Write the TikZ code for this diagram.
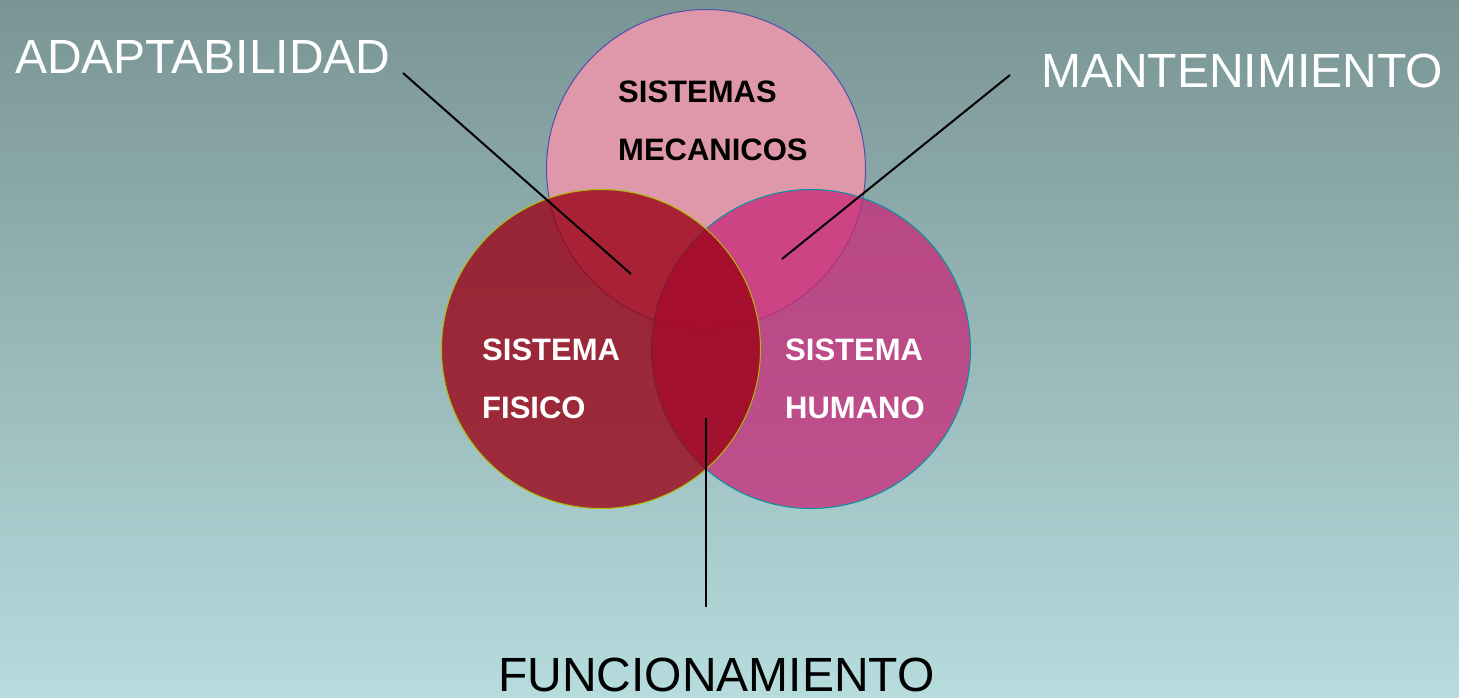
\documentclass[tikz,border=0pt]{standalone}
\usepackage{fontspec}
\setmainfont{Liberation Sans}
\usepackage{tikz}
\usetikzlibrary{positioning}
\definecolor{bgtop}{RGB}{122,148,148}
\definecolor{bgbottom}{RGB}{182,220,222}
\definecolor{mypink}{RGB}{222,152,170}
\definecolor{myred}{RGB}{155,0,20}
\definecolor{mymagenta}{RGB}{200,40,120}
\definecolor{mechline}{RGB}{80,80,170}
\definecolor{physline}{RGB}{170,190,0}
\definecolor{humline}{RGB}{0,150,160}

\begin{document}
\begin{tikzpicture}[x=1pt,y=-1pt]
    % Define styles for sets and labels
    \tikzstyle{set}=[circle, minimum size=319pt, inner sep=0pt, line width=1pt]
    \tikzstyle{mech set}=[set, draw=mechline, fill=mypink]
    \tikzstyle{human set}=[set, draw=humline, fill=mymagenta, fill opacity=0.75]
    \tikzstyle{phys set}=[set, draw=physline, fill=myred, fill opacity=0.78]
    \tikzstyle{set label}=[anchor=base west, inner sep=0pt, align=left, font=\fontsize{31}{58}\selectfont\bfseries]
    \tikzstyle{big label}=[anchor=base west, inner sep=0pt, font=\fontsize{48}{58}\selectfont]
    \tikzstyle{pointer}=[line width=2pt, black]

    % Background
    \useasboundingbox (0,0) rectangle (1459,697);
    \shade[top color=bgtop, bottom color=bgbottom] (0,0) rectangle (1459,697);

    % Sets
    \node[mech set] (S-M) at (706,169) {};
    \node[human set] (S-H) at (811,349) {};
    \node[phys set] (S-F) at (601,349) {};

    % Set labels (anchored at the last line)
    \node[set label] (L-M) at (618,160) {SISTEMAS\\MECANICOS};
    \node[set label, white] (L-F) at (482,418) {SISTEMA\\FISICO};
    \node[set label, white] (L-H) at (785,418) {SISTEMA\\HUMANO};

    % Outer labels
    \node[big label, white] (adapt) at (15,73) {ADAPTABILIDAD};
    \node[big label, white] (maint) at (1041,87) {MANTENIMIENTO};
    \node[big label] (func) at (498,691) {FUNCIONAMIENTO};

    % Pointers into the overlaps
    \coordinate (A-0) at (403,73);
    \coordinate (A-1) at (631,274);
    \coordinate (M-0) at (1010,75);
    \coordinate (M-1) at (782,259);
    \coordinate (F-0) at (706,607);
    \coordinate (F-1) at (706,418);
    \foreach \i in {A,M,F} {
        \draw[pointer] (\i-0) -- (\i-1);
    }

\end{tikzpicture}
\end{document}
